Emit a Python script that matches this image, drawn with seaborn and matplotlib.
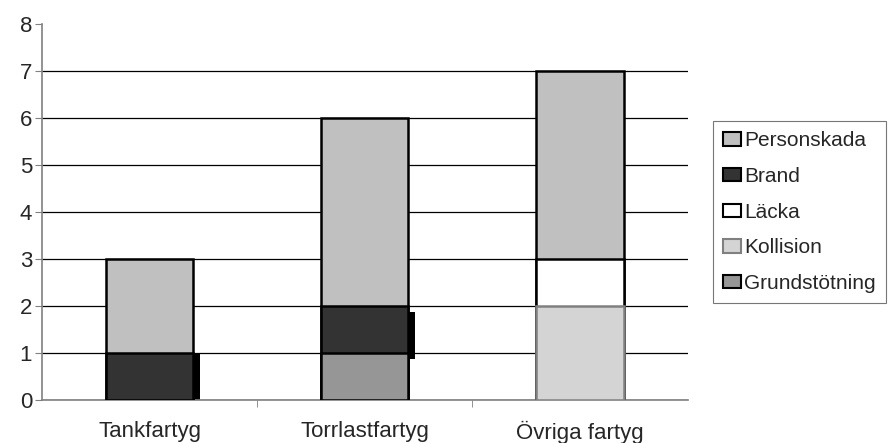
import matplotlib
matplotlib.use("Agg")
import matplotlib.pyplot as plt
from matplotlib.patches import Patch
import numpy as np
import pandas as pd
import seaborn as sns

categories = ["Tankfartyg", "Torrlastfartyg", "Övriga fartyg"]
# stack order from bottom to top
series = ["Grundstötning", "Kollision", "Läcka", "Brand", "Personskada"]
grundstotning = [0, 1, 0]
kollision = [0, 0, 2]
lacka = [0, 0, 1]
brand = [1, 1, 0]
personskada = [2, 4, 4]

values = {
    "Grundstötning": grundstotning,
    "Kollision": kollision,
    "Läcka": lacka,
    "Brand": brand,
    "Personskada": personskada,
}
colors = {
    "Grundstötning": "#969696",
    "Kollision": "#d4d4d4",
    "Läcka": "#ffffff",
    "Brand": "#333333",
    "Personskada": "#c0c0c0",
}
edges = {
    "Grundstötning": "black",
    "Kollision": "#808080",
    "Läcka": "black",
    "Brand": "black",
    "Personskada": "black",
}

rows = []
cum = np.zeros(len(categories))
for s in series:
    cum = cum + np.array(values[s])
    for i, c in enumerate(categories):
        rows.append({"Fartyg": c, "Serie": s, "Antal": values[s][i], "Topp": cum[i]})
df = pd.DataFrame(rows)

sns.set_style("white")
plt.rcParams["font.family"] = ["Liberation Sans", "DejaVu Sans"]

fig = plt.figure(figsize=(8.93, 4.43), dpi=100)
ax = fig.add_axes([0.047, 0.097, 0.723, 0.849])

bw = 0.405
ax.yaxis.grid(True, color="black", linewidth=0.9)
ax.set_axisbelow(True)

# draw cumulative heights, top series first so lower ones cover them
for s in reversed(series):
    sub = df[(df.Serie == s) & (df.Antal > 0)]
    sns.barplot(data=sub, x="Fartyg", y="Topp", order=categories, ax=ax,
                color=colors[s], edgecolor=edges[s], linewidth=1.8,
                width=bw, saturation=1, errorbar=None, zorder=3)

# small dark shadow on the right side of the Brand segments
brand_bottom = np.array(grundstotning) + np.array(kollision) + np.array(lacka)
for i, b in enumerate(brand):
    if b > 0:
        lo = max(brand_bottom[i] - 0.12, 0)
        ax.bar(i + bw / 2 + 0.016, b - 0.01, bottom=lo, width=0.03,
               color="black", linewidth=0, zorder=2.5)

ax.set_xlim(-0.5, 2.5)
ax.set_ylim(0, 8)
ax.set_yticks(range(0, 9))
ax.set_xlabel("")
ax.set_ylabel("")
ax.set_xticks([0, 1, 2])
ax.set_xticklabels(categories, fontsize=16)
ax.set_xticks([0.5, 1.5], minor=True)
ax.tick_params(axis="x", which="major", length=0, pad=15)
ax.tick_params(axis="x", which="minor", length=5, color="#808080", direction="out")
ax.tick_params(axis="y", length=5, color="#808080", direction="out", labelsize=16, pad=2)
ax.yaxis.set_ticks_position("left")
ax.xaxis.set_ticks_position("bottom")
# no grid line along the top edge
ax.yaxis.get_gridlines()[-1].set_visible(False)

for side in ["top", "right"]:
    ax.spines[side].set_visible(False)
for side in ["left", "bottom"]:
    ax.spines[side].set_color("#808080")
    ax.spines[side].set_linewidth(1.2)

handles = [Patch(facecolor=colors[s], edgecolor=edges[s], linewidth=1.5, label=s)
           for s in reversed(series)]
leg = fig.legend(handles=handles, loc="center left", bbox_to_anchor=(0.798, 0.521),
                 fontsize=15, frameon=True, fancybox=False, edgecolor="#555555",
                 handlelength=0.85, handleheight=0.62, handletextpad=0.15,
                 labelspacing=0.8, borderpad=0.5, borderaxespad=0)
leg.get_frame().set_linewidth(0.8)

fig.savefig("out.png", dpi=100)
